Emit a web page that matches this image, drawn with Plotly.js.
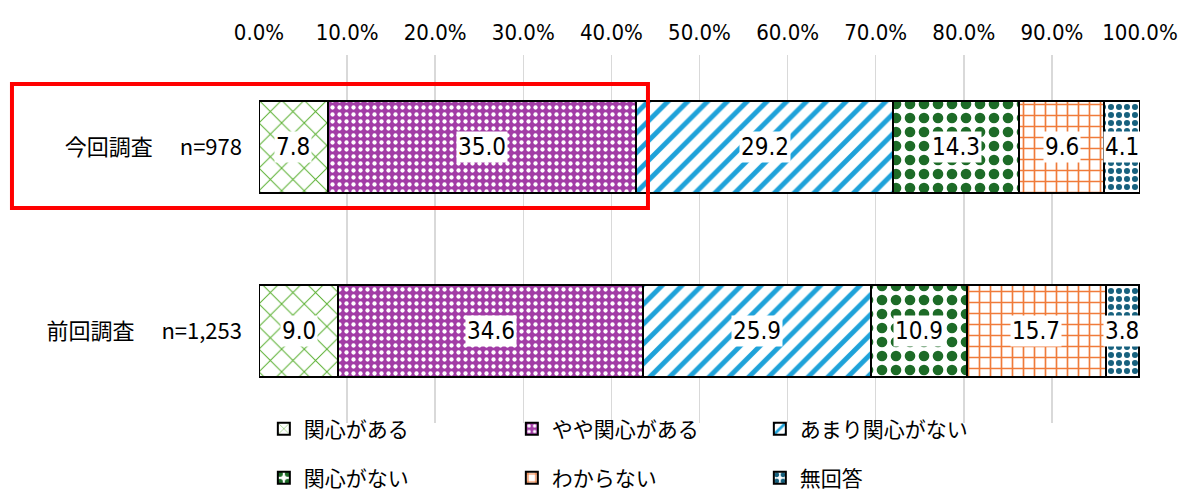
<!DOCTYPE html>
<html><head><meta charset="utf-8">
<script src="https://cdn.plot.ly/plotly-3.0.1.min.js"></script>
<style>body{margin:0;background:#fff}#c{width:1185px;height:492px}</style>
</head><body><div id="c"></div>
<script>
const categories = ["今回調査　 n=978", "前回調査　 n=1,253"];
const seriesNames = ["関心がある", "やや関心がある", "あまり関心がない", "関心がない", "わからない", "無回答"];
const v_kanshin = [7.8, 9.0];
const v_yaya = [35.0, 34.6];
const v_amari = [29.2, 25.9];
const v_nai = [14.3, 10.9];
const v_wakaranai = [9.6, 15.7];
const v_mukaito = [4.1, 3.8];
const tickVals = [0,10,20,30,40,50,60,70,80,90,100];
const tickText = ["0.0%","10.0%","20.0%","30.0%","40.0%","50.0%","60.0%","70.0%","80.0%","90.0%","100.0%"];

const seriesValues = [v_kanshin, v_yaya, v_amari, v_nai, v_wakaranai, v_mukaito];
const styles = [
  {bg:"#ffffff", fg:"#5ab031", shape:"x", size:16, sol:0.12},
  {bg:"#a23ca6", fg:"#ffffff", shape:".", size:7, sol:0.3},
  {bg:"#ffffff", fg:"#1ea2d9", shape:"/", size:14, sol:0.35},
  {bg:"#ffffff", fg:"#1d6b27", shape:".", size:14, sol:0.45},
  {bg:"#ffffff", fg:"#f07b3a", shape:"+", size:11, sol:0.28},
  {bg:"#ffffff", fg:"#17617e", shape:".", size:8, sol:0.45}
];
const numFont = "DejaVu Sans Condensed, Liberation Sans Narrow, Noto Sans CJK JP, sans-serif";
const jpFont = "Noto Sans CJK JP, sans-serif";

const traces = seriesNames.map((name, i) => ({
  type: "bar", orientation: "h", name: name,
  y: categories, x: seriesValues[i],
  legend: i < 3 ? "legend" : "legend2",
  marker: {color: styles[i].bg, line: {color: "#000", width: 2},
    pattern: {shape: styles[i].shape, fgcolor: styles[i].fg, bgcolor: styles[i].bg,
      size: styles[i].size, solidity: styles[i].sol, fillmode: "replace", fgopacity: 1}},
  hoverinfo: "x+name"
}));

const annotations = [];
categories.forEach((cat, ci) => {
  let cum = 0;
  seriesValues.forEach(vals => {
    const v = vals[ci];
    annotations.push({x: cum + v / 2, y: cat, xref: "x", yref: "y",
      text: v.toFixed(1), showarrow: false, bgcolor: "#ffffff", borderpad: 1,
      font: {family: numFont, size: 24, color: "#000"}});
    cum += v;
  });
});

const legendCommon = {orientation: "h", xref: "paper", x: 0.0055, xanchor: "left",
  yref: "container", yanchor: "middle", traceorder: "normal", entrywidth: 203,
  font: {family: jpFont, size: 21, color: "#000"}, bgcolor: "rgba(0,0,0,0)"};

const layout = {
  width: 1185, height: 492,
  margin: {l: 259, r: 45, t: 55, b: 69, autoexpand: false},
  barmode: "stack", bargap: 0.5,
  paper_bgcolor: "#fff", plot_bgcolor: "#fff",
  showlegend: true,
  xaxis: {side: "top", range: [0, 100], tickvals: tickVals, ticktext: tickText,
    showgrid: true, gridcolor: "#d9d9d9", gridwidth: 1.5, zeroline: false,
    showline: false, ticks: "", ticklabelstandoff: 10,
    tickfont: {family: numFont, size: 22, color: "#000"}, fixedrange: true},
  yaxis: {autorange: "reversed", showgrid: false, zeroline: false, showline: false,
    ticks: "", ticklabelstandoff: 16,
    tickfont: {family: jpFont, size: 22, color: "#000"}},
  legend: Object.assign({}, legendCommon, {y: 0.128}),
  legend2: Object.assign({}, legendCommon, {y: 0.028}),
  annotations: annotations,
  shapes: [{type: "rect", xref: "paper", yref: "paper",
    x0: -0.2804, x1: 0.4415, y0: 0.584, y1: 0.921,
    line: {color: "#ff0000", width: 4}, fillcolor: "rgba(0,0,0,0)"}]
};

Plotly.newPlot("c", traces, layout, {displayModeBar: false, staticPlot: true});
</script></body></html>
